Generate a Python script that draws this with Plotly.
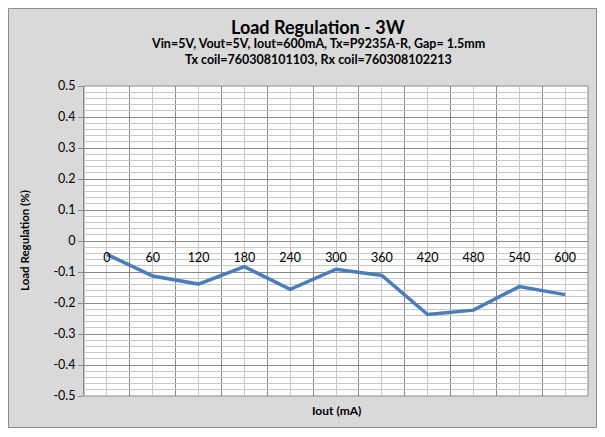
import plotly.graph_objects as go

categories = ["0", "60", "120", "180", "240", "300", "360", "420", "480", "540", "600"]
load_regulation = [-0.043, -0.113, -0.139, -0.083, -0.156, -0.091, -0.111, -0.237, -0.223, -0.147, -0.173]
y_tick_vals = [0.5, 0.4, 0.3, 0.2, 0.1, 0, -0.1, -0.2, -0.3, -0.4, -0.5]
y_tick_text = ["0.5", "0.4", "0.3", "0.2", "0.1", "0", "-0.1", "-0.2", "-0.3", "-0.4", "-0.5"]

FONT = "Lato"
idx = list(range(len(categories)))
boundaries = [i - 0.5 for i in range(len(categories) + 1)]

W, H = 589, 420
ML, MR, MT, MB = 76, 9, 78, 32
PW, PH = W - ML - MR, H - MT - MB


def px(xp):
    return (xp - ML) / PW


def py(yp):
    return (H - MB - yp) / PH


fig = go.Figure()
fig.add_trace(go.Scatter(
    x=idx, y=load_regulation, mode="lines",
    line=dict(color="#4a7ebb", width=3.5),
    showlegend=False, hoverinfo="x+y",
))

fig.update_layout(
    width=W, height=H,
    margin=dict(l=ML, r=MR, t=MT, b=MB),
    paper_bgcolor="#d9d9d9",
    plot_bgcolor="white",
    font=dict(family=FONT, color="#000000", size=11),
    xaxis=dict(
        range=[-0.5, len(categories) - 0.5],
        tickvals=idx, ticktext=categories,
        anchor="free", position=0.5,
        showgrid=True, gridcolor="#c8c8c8", gridwidth=1,
        minor=dict(tickvals=boundaries, showgrid=True, gridcolor="#8a8a8a", gridwidth=1),
        showline=True, linecolor="#8a8a8a", linewidth=1,
        ticks="", ticklabelstandoff=5,
        tickfont=dict(size=12.5, family=FONT),
        zeroline=False,
    ),
    yaxis=dict(
        range=[-0.5, 0.5],
        tickvals=y_tick_vals, ticktext=y_tick_text,
        showgrid=True, gridcolor="#8a8a8a", gridwidth=1,
        minor=dict(dtick=0.02, tick0=0, showgrid=True, gridcolor="#c8c8c8", gridwidth=1),
        showline=True, linecolor="#8a8a8a", linewidth=1,
        ticks="outside", ticklen=5, tickcolor="#8a8a8a",
        tickfont=dict(size=12.5, family=FONT),
        zeroline=False,
        automargin=False,
    ),
    shapes=[
        dict(type="rect", xref="paper", yref="paper",
             x0=px(0.5), x1=px(W - 0.5), y0=py(H - 0.5), y1=py(0.5),
             fillcolor="rgba(0,0,0,0)", line=dict(color="#8c8c8c", width=1), layer="below"),
        dict(type="rect", xref="paper", yref="paper", x0=0, x1=1, y0=0, y1=1,
             fillcolor="white", line=dict(color="#8a8a8a", width=1), layer="below"),
    ],
    annotations=[
        dict(text="<b>Load Regulation - 3W</b>", xref="paper", yref="paper",
             x=px(310), y=py(19), xanchor="center", yanchor="middle", showarrow=False,
             font=dict(size=18, family=FONT)),
        dict(text="<b>Vin=5V, Vout=5V, Iout=600mA, Tx=P9235A-R, Gap= 1.5mm</b>", xref="paper", yref="paper",
             x=px(310), y=py(36), xanchor="center", yanchor="middle", showarrow=False,
             font=dict(size=12.5, family=FONT)),
        dict(text="<b>Tx coil=760308101103, Rx coil=760308102213</b>", xref="paper", yref="paper",
             x=px(310), y=py(52), xanchor="center", yanchor="middle", showarrow=False,
             font=dict(size=12.5, family=FONT)),
        dict(text="<b>Load Regulation (%)</b>", xref="paper", yref="paper",
             x=px(16), y=0.5, xanchor="center", yanchor="middle", textangle=-90, showarrow=False,
             font=dict(size=11.5, family=FONT)),
        dict(text="<b>Iout (mA)</b>", xref="paper", yref="paper", x=0.5, y=py(402),
             xanchor="center", yanchor="middle", showarrow=False, font=dict(size=12, family=FONT)),
    ],
)

fig.write_html("out.html")
